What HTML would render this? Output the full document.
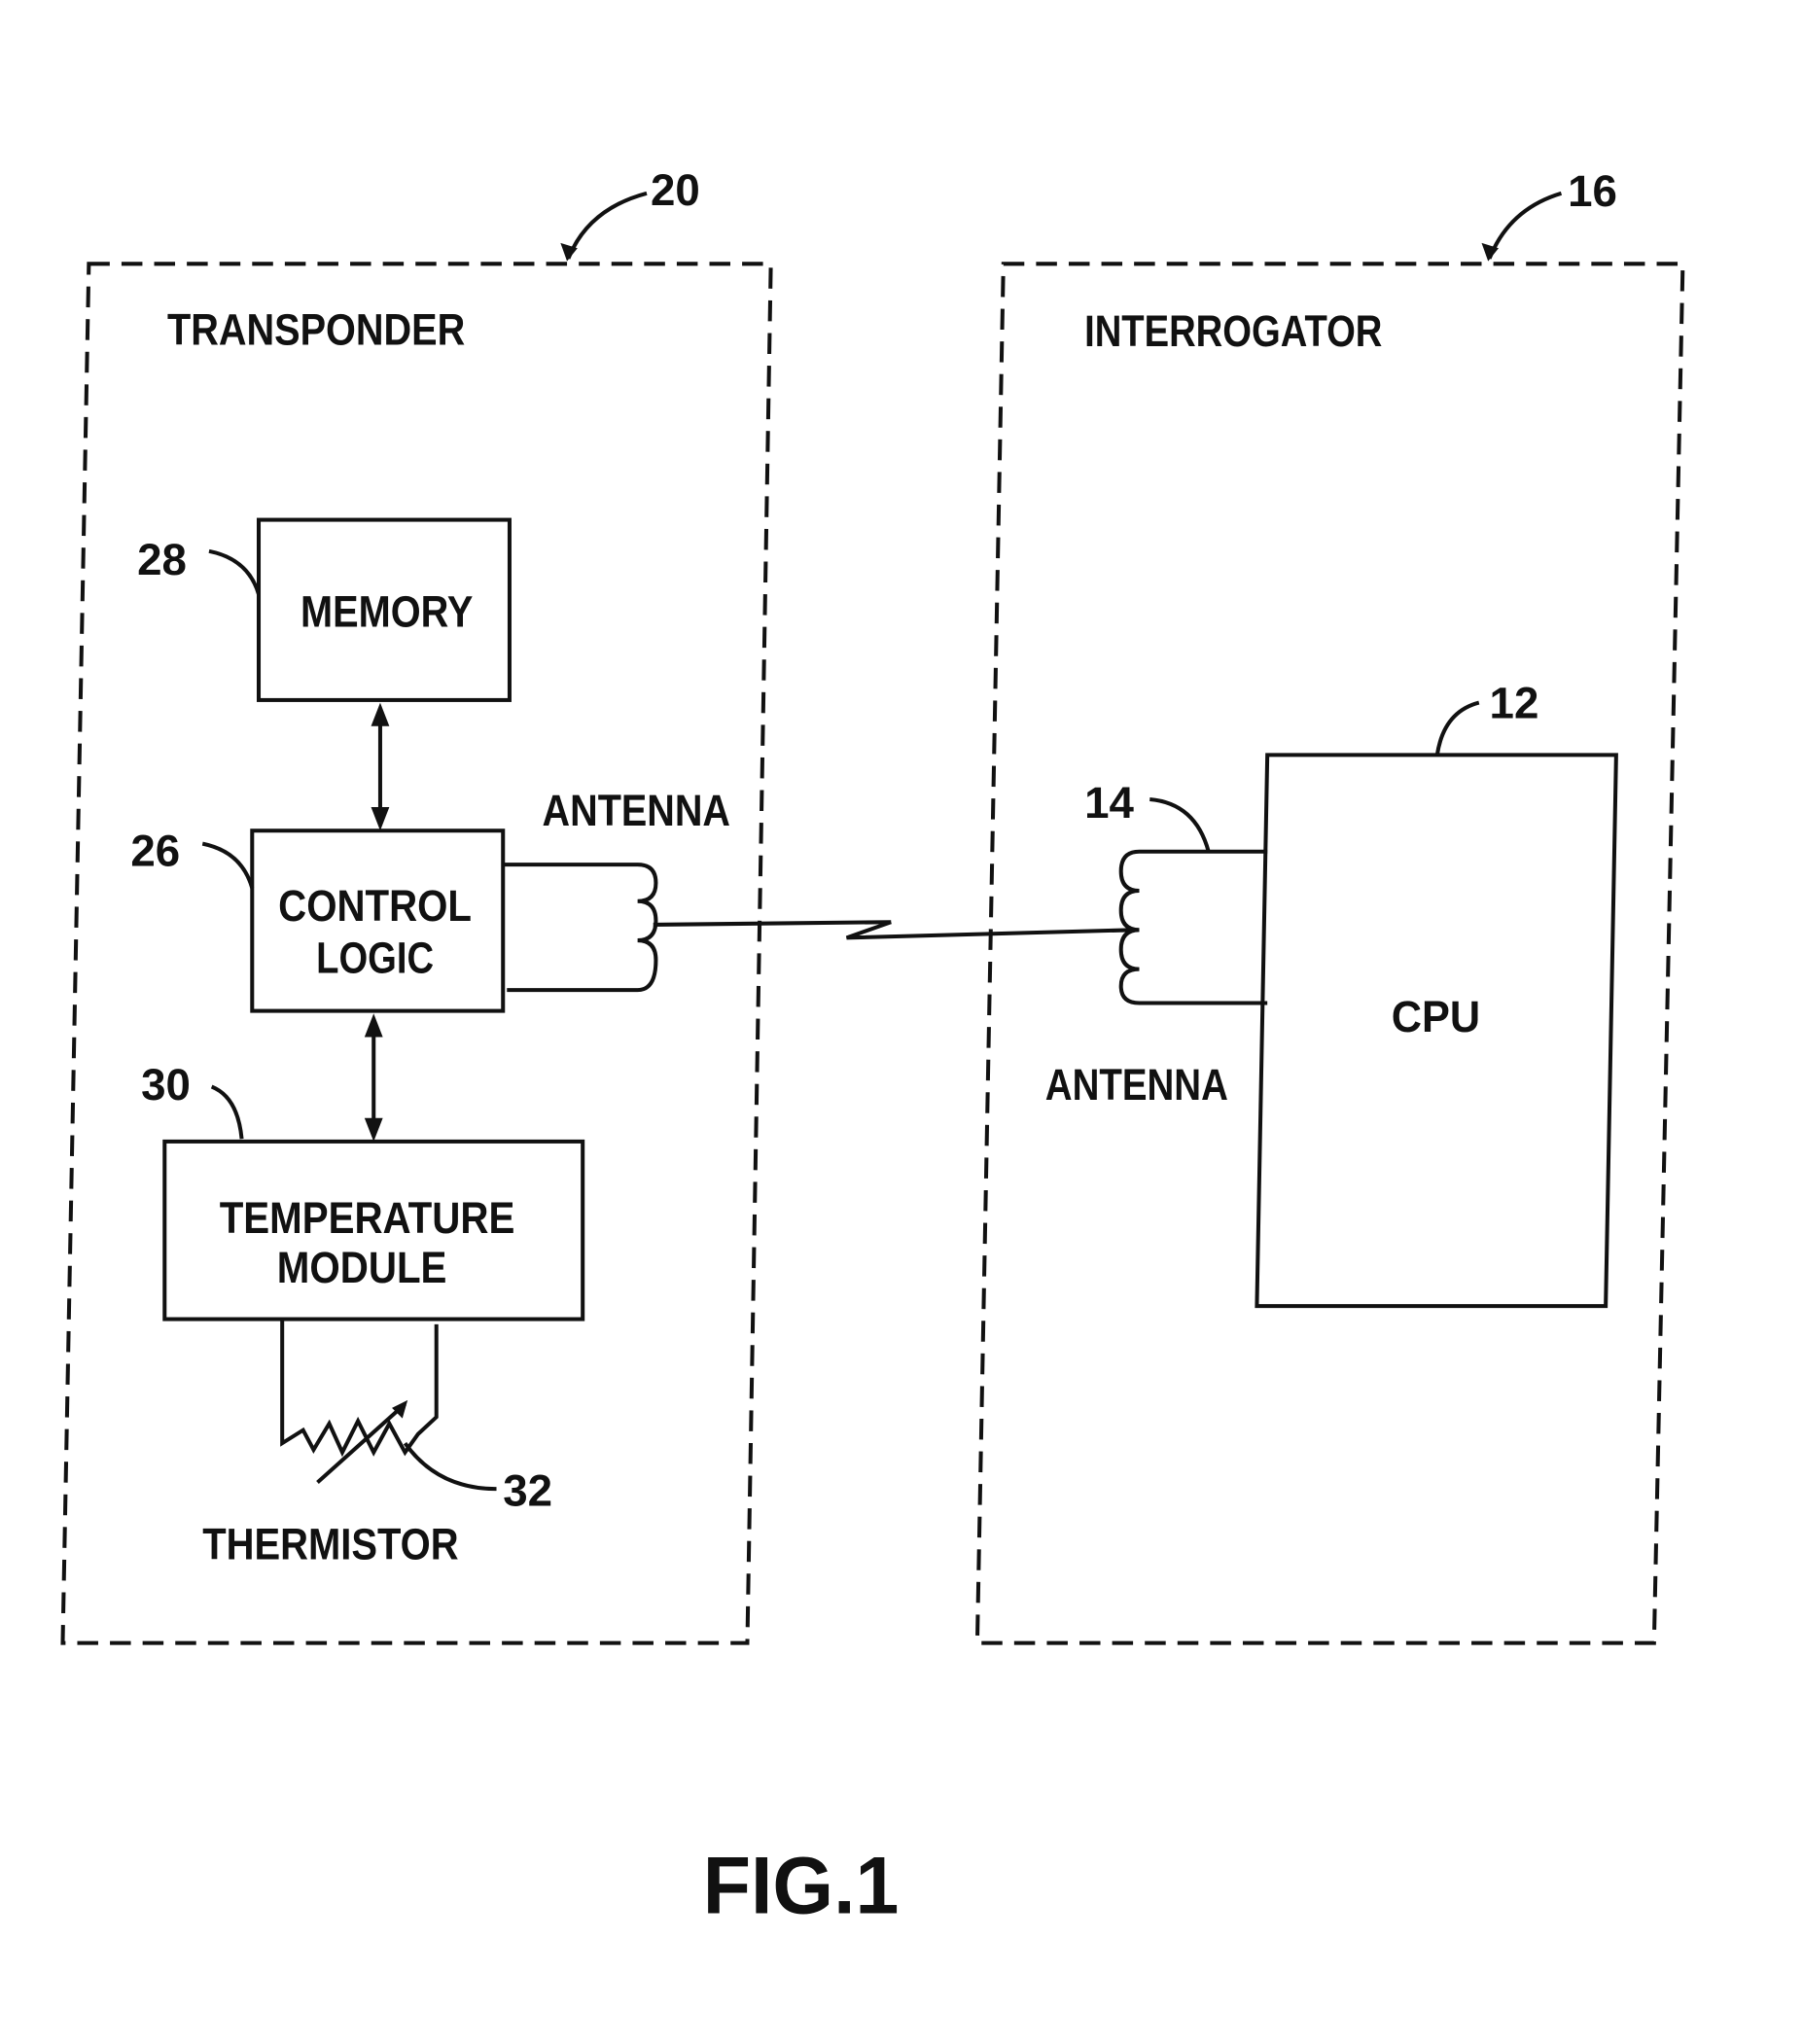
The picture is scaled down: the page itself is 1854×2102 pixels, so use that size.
<!DOCTYPE html>
<html><head><style>
html,body{margin:0;padding:0;background:#fff;}
svg{display:block;}
text{font-family:"Liberation Sans",sans-serif;font-weight:bold;fill:#111;}
</style></head><body>
<svg width="1854" height="2102" viewBox="0 0 1380 1565" preserveAspectRatio="none" xmlns="http://www.w3.org/2000/svg">
<g fill="none" stroke="#111" stroke-width="3">
<!-- dashed containers -->
<path d="M68,202 L590,202 L572,1258 L48,1258 Z" stroke-dasharray="16,9"/>
<path d="M768,202 L1288,202 L1266,1258 L748,1258 Z" stroke-dasharray="16,9"/>
<!-- leaders -->
<path d="M435,198 Q450,160 495,148"/>
<path d="M1140,198 Q1155,160 1195,148"/>
<!-- boxes -->
<rect x="198" y="398" width="192" height="138"/>
<rect x="193" y="636" width="192" height="138"/>
<rect x="126" y="874" width="320" height="136"/>
<path d="M970,578 L1237,578 L1229,1000 L962,1000 Z"/>
<!-- arrows -->
<line x1="291" y1="548" x2="291" y2="626"/>
<line x1="286" y1="786" x2="286" y2="864"/>
<!-- ref leaders -->
<path d="M160,422 Q190,428 198,455"/>
<path d="M155,646 Q185,652 193,680"/>
<path d="M162,832 Q182,840 185,872"/>
<path d="M1100,578 Q1105,545 1132,538"/>
<path d="M880,612 Q915,615 925,652"/>
<!-- left antenna -->
<path d="M385,662 L488,662 Q502,662 502,676 Q502,690 488,690 Q502,690 502,705 Q502,720 488,720 Q502,720 502,735 Q502,758 488,758 L388,758"/>
<line x1="500" y1="708" x2="682" y2="706"/>
<path d="M682,706 L648,718 L868,712"/>
<!-- right antenna -->
<path d="M970,652 L872,652 Q858,652 858,667 Q858,682 872,682 Q858,682 858,697 Q858,712 872,712 Q858,712 858,727 Q858,742 872,742 Q858,742 858,755 Q858,768 872,768 L970,768"/>
<!-- thermistor -->
<path d="M216,1010 L216,1105 L232,1095 L240,1110 L252,1090 L262,1112 L274,1088 L286,1112 L298,1090 L310,1112 L320,1098 L334,1085 L334,1014"/>
<line x1="243" y1="1135" x2="310" y2="1075"/>
<path d="M310,1105 Q335,1140 380,1140"/>
</g>
<g fill="#111">
<polygon points="291,538 284,556 298,556"/>
<polygon points="291,636 284,618 298,618"/>
<polygon points="286,776 279,794 293,794"/>
<polygon points="286,874 279,856 293,856"/>
<polygon points="434,200 429,186 442,190"/>
<polygon points="1139,200 1134,186 1147,190"/>
<polygon points="312,1072 300,1078 308,1086"/>
</g>
<g font-size="34">
<text x="128" y="264" textLength="228" lengthAdjust="spacingAndGlyphs">TRANSPONDER</text>
<text x="830" y="265" textLength="228" lengthAdjust="spacingAndGlyphs">INTERROGATOR</text>
<text x="230" y="480" textLength="132" lengthAdjust="spacingAndGlyphs">MEMORY</text>
<text x="213" y="705" textLength="148" lengthAdjust="spacingAndGlyphs">CONTROL</text>
<text x="242" y="745" textLength="90" lengthAdjust="spacingAndGlyphs">LOGIC</text>
<text x="168" y="944" textLength="226" lengthAdjust="spacingAndGlyphs">TEMPERATURE</text>
<text x="212" y="982" textLength="130" lengthAdjust="spacingAndGlyphs">MODULE</text>
<text x="415" y="632" textLength="144" lengthAdjust="spacingAndGlyphs">ANTENNA</text>
<text x="800" y="842" textLength="140" lengthAdjust="spacingAndGlyphs">ANTENNA</text>
<text x="1065" y="790" textLength="68" lengthAdjust="spacingAndGlyphs">CPU</text>
<text x="155" y="1194" textLength="196" lengthAdjust="spacingAndGlyphs">THERMISTOR</text>
<text x="498" y="157">20</text>
<text x="1200" y="158">16</text>
<text x="105" y="440">28</text>
<text x="100" y="663">26</text>
<text x="108" y="842">30</text>
<text x="1140" y="550">12</text>
<text x="830" y="626">14</text>
<text x="385" y="1153">32</text>
<text x="538" y="1465" font-size="62" textLength="150" lengthAdjust="spacingAndGlyphs">FIG.1</text>
</g>
</svg>
</body></html>
